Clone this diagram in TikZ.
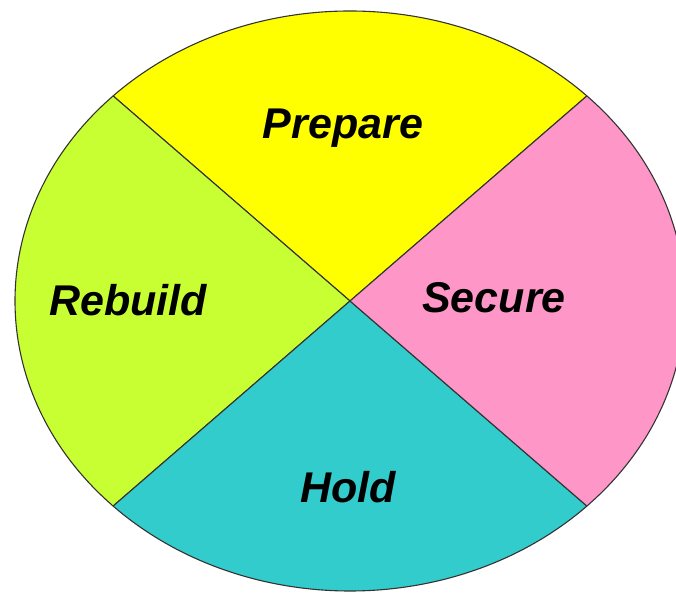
\documentclass[tikz,border=0pt]{standalone}
\usepackage{fontspec}
\setmainfont{Liberation Sans}
\usetikzlibrary{positioning}
\definecolor{prepcol}{HTML}{FFFF00}
\definecolor{rebuildcol}{HTML}{C8FF33}
\definecolor{securecol}{HTML}{FF96C8}
\definecolor{holdcol}{HTML}{33CCCC}

\begin{document}
\begin{tikzpicture}[x=1pt,y=1pt,
    sector/.style={draw=black!80, line width=1.1pt, line join=round},
    phase/.style={font=\fontsize{43}{43}\selectfont\bfseries\itshape}]
    \useasboundingbox (0,0) rectangle (676,593);
    \coordinate (o) at (350,292);
    % Sectors of the ellipse
    \filldraw[sector, fill=prepcol] (o) -- ++({335*cos(45)},{290*sin(45)})
        arc[start angle=45, end angle=135, x radius=335, y radius=290] -- cycle;
    \filldraw[sector, fill=rebuildcol] (o) -- ++({335*cos(135)},{290*sin(135)})
        arc[start angle=135, end angle=225, x radius=335, y radius=290] -- cycle;
    \filldraw[sector, fill=holdcol] (o) -- ++({335*cos(225)},{290*sin(225)})
        arc[start angle=225, end angle=315, x radius=335, y radius=290] -- cycle;
    \filldraw[sector, fill=securecol] (o) -- ++({335*cos(315)},{290*sin(315)})
        arc[start angle=315, end angle=405, x radius=335, y radius=290] -- cycle;
    % Labels
    \node[phase] (prepare) at (343,465) {Prepare};
    \node[phase] (rebuild) at (128,293) {Rebuild};
    \node[phase] (secure) at (494,295) {Secure};
    \node[phase] (hold) at (348,106) {Hold};
\end{tikzpicture}
\end{document}
